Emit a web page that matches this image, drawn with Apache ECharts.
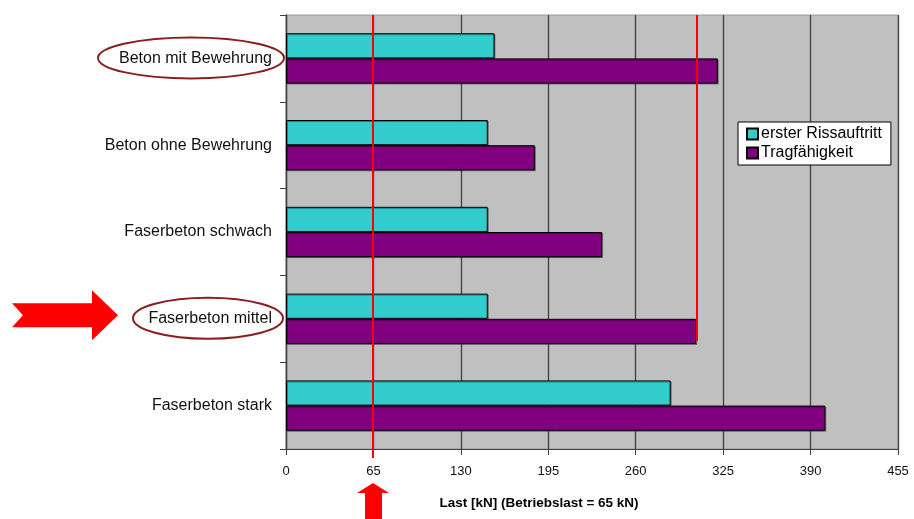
<!DOCTYPE html>
<html>
<head>
<meta charset="utf-8">
<script src="https://cdn.jsdelivr.net/npm/echarts@6/dist/echarts.min.js"></script>
<style>html,body{margin:0;padding:0;background:#fff}#c{width:914px;height:519px}</style>
</head>
<body>
<div id="c"></div>
<script>
var categories = ['Beton mit Bewehrung', 'Beton ohne Bewehrung', 'Faserbeton schwach', 'Faserbeton mittel', 'Faserbeton stark'];
var seriesNames = ['erster Rissauftritt', 'Tragfähigkeit'];
var rissValues = [155, 150, 150, 150, 286];
var tragValues = [321, 185, 235, 305, 401];
var xTicks = [0, 65, 130, 195, 260, 325, 390, 455];
var betriebslast = 65;
var highlighted = ['Beton mit Bewehrung', 'Faserbeton mittel'];
var refCategory = 'Faserbeton mittel';

var chart = echarts.init(document.getElementById('c'), null, {renderer: 'canvas'});
var FONT = 'Liberation Sans, Arial, sans-serif';
var barShadow = {borderColor: '#000', borderWidth: 1, shadowColor: 'rgba(0,0,0,0.35)', shadowOffsetX: 1, shadowOffsetY: 1, shadowBlur: 0};

chart.setOption({
  animation: false,
  backgroundColor: '#fff',
  textStyle: {fontFamily: FONT},
  grid: {left: 286, right: 16, top: 15, bottom: 70, show: true, backgroundColor: '#C0C0C0', borderColor: '#9a9a9a', borderWidth: 1},
  legend: {
    orient: 'vertical', left: 738, top: 122,
    backgroundColor: '#fff', borderColor: '#000', borderWidth: 1,
    padding: [4, 9, 4, 8], itemGap: 3, itemWidth: 11, itemHeight: 11,
    icon: 'rect',
    textStyle: {fontFamily: FONT, fontSize: 16, color: '#000', padding: [0, 0, 0, -2]},
    data: seriesNames
  },
  xAxis: {
    type: 'value', min: xTicks[0], max: xTicks[xTicks.length - 1], interval: xTicks[1] - xTicks[0],
    axisLine: {show: true, lineStyle: {color: '#404040', width: 1}},
    axisTick: {show: true, length: 6, lineStyle: {color: '#404040'}},
    axisLabel: {fontFamily: FONT, fontSize: 13, color: '#111', margin: 16},
    splitLine: {show: true, lineStyle: {color: '#404040', width: 1.3}},
    name: 'Last [kN] (Betriebslast = 65 kN)',
    nameLocation: 'middle', nameGap: 47,
    nameTextStyle: {fontFamily: FONT, fontSize: 13.5, fontWeight: 'bold', color: '#000', padding: [0, 106, 0, 0]}
  },
  yAxis: {
    type: 'category', data: categories, inverse: true,
    axisLine: {show: true, lineStyle: {color: '#404040', width: 1.3}},
    axisTick: {show: true, length: 6, lineStyle: {color: '#404040'}},
    axisLabel: {fontFamily: FONT, fontSize: 16, color: '#111', margin: 14}
  },
  series: [
    {name: seriesNames[0], type: 'bar', data: rissValues, barGap: '0%', barCategoryGap: '42%',
     itemStyle: Object.assign({color: '#33CCCC'}, barShadow)},
    {name: seriesNames[1], type: 'bar', data: tragValues, barGap: '0%', barCategoryGap: '42%',
     itemStyle: Object.assign({color: '#800080'}, barShadow)}
  ]
});

function px(v, c) { return chart.convertToPixel({gridIndex: 0}, [v, c]); }
var gridTop = px(0, categories[0])[1];
var band = px(0, categories[1])[1] - gridTop;
gridTop = gridTop - band / 2;
var gridBottom = gridTop + band * categories.length;

var graphics = [];
// Betriebslast line
var xb = Math.round(px(betriebslast, categories[0])[0]);
graphics.push({type: 'line', z: 100, shape: {x1: xb, y1: gridTop, x2: xb, y2: gridBottom + 9}, style: {stroke: '#FF0000', lineWidth: 2}});
// Reference line at Tragfähigkeit of Faserbeton mittel
var ri = categories.indexOf(refCategory);
var xr = Math.round(px(tragValues[ri], refCategory)[0]) + 1;
var refCenter = px(0, refCategory)[1];
graphics.push({type: 'line', z: 100, shape: {x1: xr, y1: gridTop, x2: xr, y2: refCenter + 22}, style: {stroke: '#FF0000', lineWidth: 2}});
// Ellipses around highlighted labels
var ellipses = {'Beton mit Bewehrung': {cx: 191, rx: 93}, 'Faserbeton mittel': {cx: 208, rx: 75}};
highlighted.forEach(function (c) {
  var cy = px(0, c)[1];
  var e = ellipses[c];
  graphics.push({type: 'ellipse', z: 100, shape: {cx: e.cx, cy: cy - 0.5, rx: e.rx, ry: 20.5}, style: {fill: 'none', stroke: '#8B1E1E', lineWidth: 2}});
});
// Right-pointing arrow at Faserbeton mittel
var ay = refCenter - 3.5;
graphics.push({type: 'polygon', z: 100, shape: {points: [[12, ay - 12], [92, ay - 12], [92, ay - 25], [118, ay], [92, ay + 25], [92, ay + 12], [12, ay + 12], [23, ay]]}, style: {fill: '#FF0000'}});
// Up arrow under Betriebslast tick
var ux = xb;
graphics.push({type: 'polygon', z: 100, shape: {points: [[ux, 483], [ux + 16, 493], [ux + 9, 493], [ux + 9, 519], [ux - 8, 519], [ux - 8, 493], [ux - 16, 493]]}, style: {fill: '#FF0000'}});

chart.setOption({graphic: graphics});
</script>
</body>
</html>
